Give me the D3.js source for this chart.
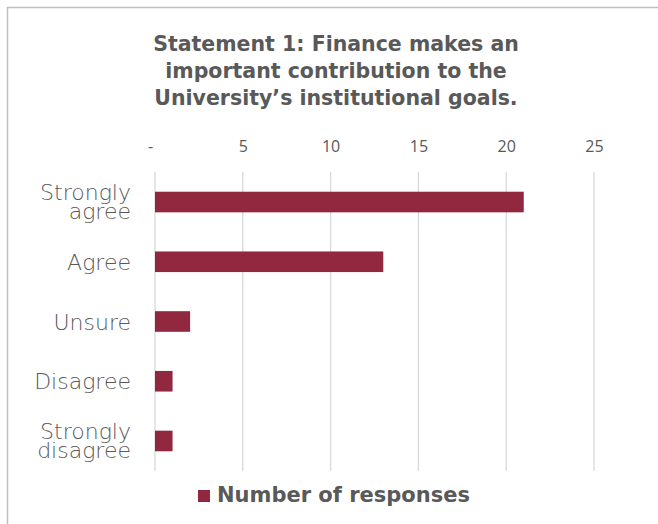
<!DOCTYPE html>
<html>
<head>
<meta charset="utf-8">
<script src="https://cdn.jsdelivr.net/npm/d3@7/dist/d3.min.js"></script>
<style>
  html, body { margin: 0; padding: 0; background: #fff; }
  svg { display: block; }
</style>
</head>
<body>
<svg id="chart" width="658" height="524"></svg>
<script>
// Survey responses for Statement 1
const categories = ["Strongly agree", "Agree", "Unsure", "Disagree", "Strongly disagree"];
const responses = [21, 13, 2, 1, 1];
const tickValues = [0, 5, 10, 15, 20, 25];
const tickLabels = ["-", "5", "10", "15", "20", "25"];
const titleLines = [
  "Statement 1: Finance makes an",
  "important contribution to the",
  "University\u2019s institutional goals."
];
const seriesName = "Number of responses";

const barColor = "#922840";
const textColor = "#595959";
const gridColor = "#d9d9d9";

const svg = d3.select("#chart");

// Frame: top and left edges only
svg.append("line").attr("x1", 7).attr("x2", 658).attr("y1", 7.5).attr("y2", 7.5)
  .attr("stroke", "#bfbfbf").attr("stroke-width", 1.5);
svg.append("line").attr("x1", 7.5).attr("x2", 7.5).attr("y1", 7).attr("y2", 524)
  .attr("stroke", "#bfbfbf").attr("stroke-width", 1.5);

// Title
const title = svg.append("text")
  .attr("text-anchor", "middle")
  .attr("fill", textColor)
  .style("font-family", "'DejaVu Sans', sans-serif")
  .style("font-weight", "bold")
  .style("font-size", "20.5px");
title.selectAll("tspan").data(titleLines).join("tspan")
  .attr("x", 336)
  .attr("y", (d, i) => 51 + i * 27)
  .text(d => d);

const plot = { left: 155, right: 594, top: 172, bottom: 471 };

const x = d3.scaleLinear().domain([0, 25]).range([plot.left, plot.right]);
const y = d3.scaleBand().domain(categories).range([plot.top, plot.bottom]).paddingInner(0.655).paddingOuter(0.33);

// Vertical gridlines
svg.append("g").selectAll("line").data(tickValues).join("line")
  .attr("x1", d => x(d)).attr("x2", d => x(d))
  .attr("y1", plot.top).attr("y2", plot.bottom)
  .attr("stroke", gridColor).attr("stroke-width", 1.3);

// Top axis labels
const xAxis = d3.axisTop(x)
  .tickValues(tickValues)
  .tickFormat((d, i) => tickLabels[i])
  .tickSize(0)
  .tickPadding(0);
const axisG = svg.append("g").attr("transform", `translate(0, 152)`).call(xAxis);
axisG.select(".domain").remove();
axisG.selectAll("text")
  .attr("fill", textColor)
  .attr("dy", 0)
  .style("font-family", "'Open Sans', sans-serif")
  .style("font-size", "16px");
axisG.selectAll(".tick").filter(d => d === 0).select("text").attr("dx", -5);

// Bars
svg.append("g").selectAll("rect").data(categories).join("rect")
  .attr("x", x(0))
  .attr("y", d => y(d))
  .attr("width", (d, i) => x(responses[i]) - x(0))
  .attr("height", y.bandwidth())
  .attr("fill", barColor);

// Category labels, wrapped to two lines for multi-word labels
const labelG = svg.append("g")
  .attr("fill", textColor)
  .style("font-family", "'DejaVu Sans', sans-serif")
  .style("font-weight", "200")
  .style("font-size", "22px")
  .attr("text-anchor", "end");
categories.forEach(c => {
  const words = c.split(" ");
  const cy = y(c) + y.bandwidth() / 2;
  const t = labelG.append("text");
  if (words.length === 1) {
    t.append("tspan").attr("x", 131).attr("y", cy + 8).text(c);
  } else {
    t.append("tspan").attr("x", 131).attr("y", cy - 2).text(words[0]);
    t.append("tspan").attr("x", 131).attr("y", cy + 17).text(words.slice(1).join(" "));
  }
});

// Legend
const legend = svg.append("g");
legend.append("rect").attr("x", 198).attr("y", 490).attr("width", 12).attr("height", 12).attr("fill", barColor);
legend.append("text").attr("x", 217).attr("y", 502)
  .attr("fill", textColor)
  .style("font-family", "'DejaVu Sans', sans-serif")
  .style("font-weight", "bold")
  .style("font-size", "21px")
  .text(seriesName);
</script>
</body>
</html>
